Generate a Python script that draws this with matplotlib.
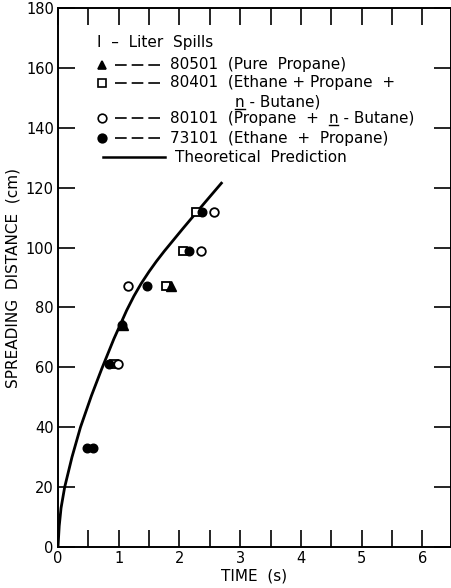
import numpy as np
import matplotlib.pyplot as plt

# spreading distance (cm) vs time (s)
t_80501 = [1.07, 1.86]
d_80501 = [74, 87]

t_80401 = [0.93, 1.77, 2.05, 2.28]
d_80401 = [61, 87, 99, 112]

t_80101 = [0.98, 1.16, 2.36, 2.57]
d_80101 = [61, 87, 99, 112]

t_73101 = [0.47, 0.58, 0.84, 1.06, 1.46, 2.15, 2.37]
d_73101 = [33, 33, 61, 74, 87, 99, 112]

# theoretical prediction curve
t_theory = [0, 0.02, 0.05, 0.11, 0.23, 0.37, 0.55, 0.72, 0.92, 1.13, 1.25, 1.37,
            1.5, 1.62, 1.75, 1.9, 2.05, 2.22, 2.45, 2.69]
d_theory = [0, 7, 13, 20, 30, 40, 50.5, 59.5, 69.5, 79, 83.8, 88,
            92, 95.4, 98.8, 102.5, 106.2, 110.3, 115.8, 121.5]

W, H = 452, 588
fig = plt.figure(figsize=(W/100, H/100), dpi=100)
ax = fig.add_axes([58/W, 1-547/H, 393/W, 539/H])

ax.plot(t_theory, d_theory, color='black', lw=2)
ms = 6.2
ax.plot(t_80401, d_80401, 's', mfc='white', mec='black', ms=ms, mew=1.3, ls='none')
ax.plot(t_80501, d_80501, '^', mfc='black', mec='black', ms=ms+1, ls='none')
ax.plot(t_80101, d_80101, 'o', mfc='white', mec='black', ms=ms, mew=1.3, ls='none')
ax.plot(t_73101, d_73101, 'o', mfc='black', mec='black', ms=ms, ls='none')

ax.set_xlim(0, 6.47)
ax.set_ylim(0, 180)
xt = np.arange(0, 6.5, 0.5)
ax.set_xticks(xt)
ax.set_xticklabels(['%d' % v if v == int(v) else '' for v in xt])
ax.set_yticks(range(0, 181, 20))
ax.tick_params(direction='in', length=12, width=1.2, labelsize=10.5,
               top=True, right=True, pad=3)
for s in ax.spines.values():
    s.set_linewidth(1.4)

ax.set_xlabel('TIME  (s)', fontsize=11, labelpad=2)
ax.set_ylabel('SPREADING  DISTANCE  (cm)', fontsize=11, labelpad=4)

# legend drawn by hand (pixel positions of the original)
def fx(px):
    return px / W

def fy(py):
    return 1 - py / H

fs = 11
fig.text(fx(97), fy(42), 'I  –  Liter  Spills', fontsize=fs, va='center')
rows = [
    ('^', 'black', 65, '80501  (Pure  Propane)'),
    ('s', 'white', 83, '80401  (Ethane + Propane  +'),
    ('o', 'white', 118, '80101  (Propane  +  '),
    ('o', 'black', 138, '73101  (Ethane  +  Propane)'),
]
texts = {}
for mk, fc, py, label in rows:
    ax.plot([fx(102)], [fy(py)], mk, mfc=fc, mec='black', ms=ms, mew=1.2,
            transform=fig.transFigure, clip_on=False)
    ax.plot([fx(115), fx(161)], [fy(py), fy(py)], ls=(0, (7, 3)), color='black',
            lw=1.2, transform=fig.transFigure, clip_on=False)
    texts[py] = fig.text(fx(170), fy(py), label, fontsize=fs, va='center')

fig.canvas.draw()
r = fig.canvas.get_renderer()
tmp = fig.text(0, 0, 'n', fontsize=fs)
nw = tmp.get_window_extent(r).width
tmp.remove()

bb = texts[118].get_window_extent(r)
n1 = fig.text(fx(235), fy(102), 'n - Butane)', fontsize=fs, va='center')
n2 = fig.text(bb.x1 / W, fy(118), 'n - Butane)', fontsize=fs, va='center')
fig.canvas.draw()
for tx in (n1, n2):
    b = tx.get_window_extent(r)
    ax.plot([b.x0 / W, (b.x0 + nw) / W], [(b.y0 + 1) / H, (b.y0 + 1) / H],
            color='black', lw=1, transform=fig.transFigure, clip_on=False)

ax.plot([fx(103), fx(165)], [fy(157), fy(157)], color='black', lw=1.8,
        transform=fig.transFigure, clip_on=False)
fig.text(fx(175), fy(157), 'Theoretical  Prediction', fontsize=fs, va='center')

fig.savefig('out.png', dpi=100)
